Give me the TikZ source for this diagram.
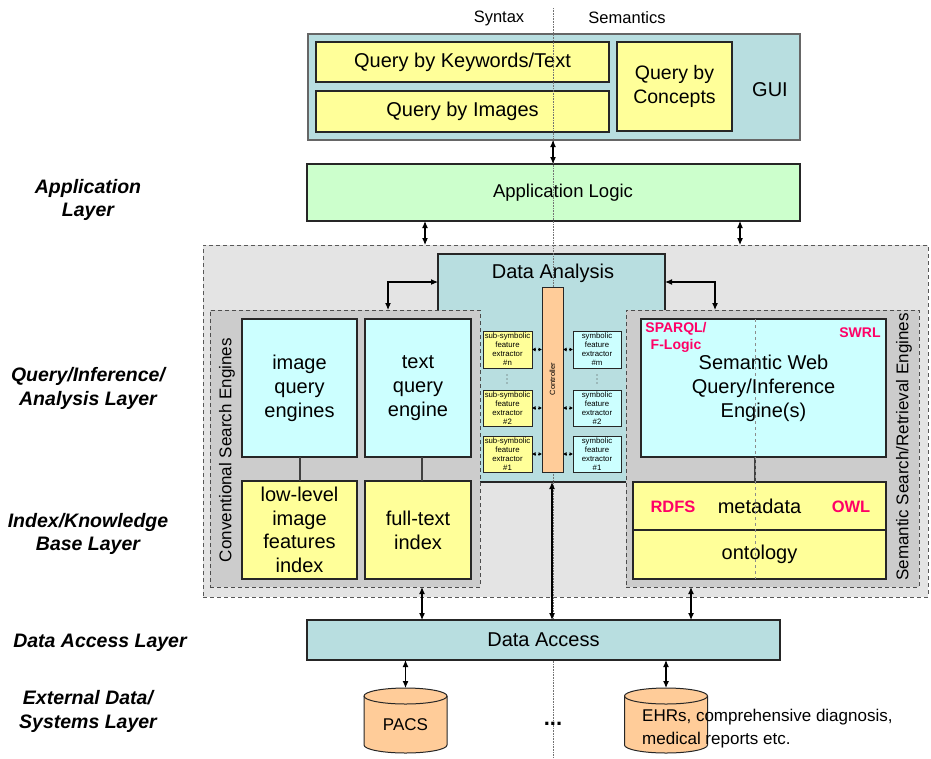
\documentclass[tikz,border=0pt]{standalone}
\usepackage{fontspec}
\setmainfont{Liberation Sans}
\usetikzlibrary{arrows.meta}
\definecolor{tealc}{HTML}{B8DEE0}
\definecolor{yelc}{HTML}{FFFF99}
\definecolor{grnc}{HTML}{CCFFCC}
\definecolor{cyac}{HTML}{CCFFFF}
\definecolor{peac}{HTML}{FFCC99}
\definecolor{grayo}{HTML}{E4E4E4}
\definecolor{grayi}{HTML}{CCCCCC}
\definecolor{pinkc}{HTML}{FF0066}
\newcommand\mybox[7]{\node[#1,minimum width={#5pt-#3pt},minimum height={#6pt-#4pt}] (#2) at ({(#3+#5)/2},{(#4+#6)/2}) {#7};}
\newcommand\drawcyl[1]{%
  \path[fill=peac, draw=black!85, line width=1pt] ([yshift=-8pt]#1.north west) -- ([yshift=8pt]#1.south west)
    arc[start angle=180,end angle=360,x radius=41.5pt,y radius=8pt] -- ([yshift=-8pt]#1.north east)
    arc[start angle=0,end angle=180,x radius=41.5pt,y radius=8pt] -- cycle;
  \draw[black!85, line width=1pt] ([yshift=-8pt]#1.north west) arc[start angle=180,end angle=360,x radius=41.5pt,y radius=8pt];}
\newcommand\vdotsat[2]{\fill[black!75] (#1,#2-4) circle (0.6pt) (#1,#2) circle (0.6pt) (#1,#2+4) circle (0.6pt);}
\tikzset{
  bx/.style={draw=black!85, line width=1.1pt, inner sep=0pt, outer sep=0pt, align=center, font=\fontsize{20}{24}\selectfont},
  yel/.style={bx, fill=yelc},
  cya/.style={bx, fill=cyac},
  tea/.style={bx, fill=tealc},
  grn/.style={bx, fill=grnc},
  outerbox/.style={bx, fill=grayo, draw=black!65, dash pattern=on 4pt off 3pt, line width=1pt},
  innerbox/.style={bx, fill=grayi, draw=black!70, dash pattern=on 4pt off 3pt, line width=1pt},
  ext/.style={bx, line width=0.9pt, font=\fontsize{7.8}{8.9}\selectfont},
  layer/.style={align=center, font=\fontsize{19.5}{23.5}\selectfont\bfseries\itshape},
  pink/.style={text=pinkc, align=center, font=\bfseries},
  arr/.style={{Latex[length=7pt,width=6pt]}-{Latex[length=7pt,width=6pt]}, line width=1.1pt, black},
  sarr/.style={{Latex[length=3.5pt,width=4pt]}-{Latex[length=3.5pt,width=4pt]}, line width=0.9pt, black, dotted},
  conn/.style={line width=1.2pt, black!75},
  lbl/.style={inner sep=0pt, align=center}
}
\begin{document}
\begin{tikzpicture}[x=1pt,y=-1pt]
\useasboundingbox[fill=white] (0,0) rectangle (931,758);

% Top labels
\node[lbl, font=\fontsize{16.5}{20}\selectfont] (syn) at (499,18) {Syntax};
\node[lbl, font=\fontsize{16.5}{20}\selectfont] (sem) at (627,18) {Semantics};

% GUI
\mybox{tea, draw=black!60}{gui}{308}{34}{800}{140}{}
\mybox{yel}{qkw}{316}{42}{609}{82}{Query by Keywords/Text}
\mybox{yel}{qimg}{316}{91}{609}{132}{Query by Images}
\mybox{yel, font=\fontsize{19.5}{24}\selectfont}{qcon}{617}{42}{732}{131}{Query by\\Concepts}
\node[lbl, font=\fontsize{20}{24}\selectfont] (guilbl) at (770,90) {GUI};

% Application logic
\mybox{grn}{app}{307}{164}{800}{221}{}
\node[lbl, font=\fontsize{18.5}{22}\selectfont] (applbl) at (563,193) {Application Logic};

% Outer gray
\mybox{outerbox}{outer}{203}{245}{928}{597}{}
% Data analysis
\mybox{tea}{da}{438}{254}{665}{482}{}
\node[lbl, font=\fontsize{20}{24}\selectfont] (dalbl) at (553,273) {Data Analysis};

% Conventional engines
\mybox{innerbox}{conv}{210}{310}{480}{587}{}
\node[lbl, rotate=90, font=\fontsize{17}{20}\selectfont] (convlbl) at (227,450) {Conventional Search Engines};
\mybox{cya}{iqe}{242}{319}{357}{457}{image\\query\\engines}
\mybox{cya}{tqe}{365}{319}{471}{457}{text\\query\\engine}
\mybox{yel, font=\fontsize{20}{23.5}\selectfont}{llf}{242}{481}{357}{579}{low-level\\image\\features\\index}
\mybox{yel}{fti}{365}{481}{471}{579}{full-text\\index}
\coordinate (xb1) at (422,0);
\coordinate (xc1) at (300,0);
\draw[conn] (iqe.south -| xc1) -- (llf.north -| xc1);
\draw[conn] (tqe.south -| xb1) -- (fti.north -| xb1);

% Semantic engines
\mybox{innerbox}{semb}{626}{310}{919}{587}{}
\node[lbl, rotate=90, font=\fontsize{17}{20}\selectfont] (semlbl) at (904,447) {Semantic Search/Retrieval Engines};
\mybox{cya}{sweb}{641}{319}{886}{457}{Semantic Web\\Query/Inference\\Engine(s)}
\mybox{yel}{meta}{633}{482}{886}{530}{metadata}
\mybox{yel}{onto}{633}{530}{886}{579}{ontology}
\coordinate (xs) at (755,0);
\draw[conn] (sweb.south -| xs) -- (meta.north -| xs);
\draw[black!45, dashed, line width=0.7pt] (sweb.north -| xs) -- (onto.south -| xs);
\node[pink, font=\fontsize{14}{17}\selectfont\bfseries] (sparql) at (676,337) {SPARQL/\\F-Logic};
\node[pink, font=\fontsize{14}{17}\selectfont\bfseries] (swrl) at (860,333) {SWRL};
\node[pink, font=\fontsize{16.5}{20}\selectfont\bfseries] (rdfs) at (673,507) {RDFS};
\node[pink, font=\fontsize{16.5}{20}\selectfont\bfseries] (owl) at (851,507) {OWL};

% Extractors
\mybox{ext, fill=yelc}{subn}{483}{331}{532}{368}{sub-symbolic\\feature\\extractor\\\#n}
\mybox{ext, fill=yelc}{sub2}{483}{390}{532}{426}{sub-symbolic\\feature\\extractor\\\#2}
\mybox{ext, fill=yelc}{sub1}{483}{436}{532}{472}{sub-symbolic\\feature\\extractor\\\#1}
\mybox{ext, fill=cyac}{symm}{573}{331}{621}{368}{symbolic\\feature\\extractor\\\#m}
\mybox{ext, fill=cyac}{sym2}{573}{390}{621}{426}{symbolic\\feature\\extractor\\\#2}
\mybox{ext, fill=cyac}{sym1}{573}{436}{621}{472}{symbolic\\feature\\extractor\\\#1}
\vdotsat{507}{379}
\vdotsat{597}{379}

% Syntax/Semantics divider
\draw[black!55, densely dotted, line width=0.6pt] (553,8) -- (553,758);

% Controller
\mybox{bx, fill=peac, line width=0.9pt}{ctrl}{542}{287}{563}{472}{}
\node[lbl, rotate=90, font=\fontsize{7.5}{9}\selectfont] (ctrllbl) at (552.5,379) {Controller};
\draw[sarr] (subn.east) -- (ctrl.west |- subn.east);
\draw[sarr] (sub2.east) -- (ctrl.west |- sub2.east);
\draw[sarr] (sub1.east) -- (ctrl.west |- sub1.east);
\draw[sarr] (symm.west) -- (ctrl.east |- symm.west);
\draw[sarr] (sym2.west) -- (ctrl.east |- sym2.west);
\draw[sarr] (sym1.west) -- (ctrl.east |- sym1.west);

% Data access
\mybox{tea}{dacc}{307}{620}{780}{660}{Data Access}

% Cylinders
\node[inner sep=0pt, outer sep=0pt, minimum width=83pt, minimum height=65pt] (pacs) at (405.5,720.5) {};
\node[inner sep=0pt, outer sep=0pt, minimum width=83pt, minimum height=65pt] (ehr) at (666,720.5) {};
\drawcyl{pacs}
\drawcyl{ehr}
\node[lbl, font=\fontsize{17}{20}\selectfont] (pacslbl) at (405.5,725) {PACS};
\node[lbl, anchor=west, align=left, font=\fontsize{17}{23}\selectfont] (ehrlbl) at (642,728.5) {EHRs, comprehensive diagnosis,\\medical reports etc.};
\node[lbl, font=\fontsize{22}{22}\selectfont\bfseries] (dots) at (553,724) {...};

% Arrows
\coordinate (xm) at (553,0);
\coordinate (xa1) at (425,0);
\coordinate (xa2) at (740,0);
\coordinate (yda) at (0,282);
\coordinate (xl) at (388,0);
\coordinate (xr) at (715,0);
\coordinate (xb2) at (552,0);
\coordinate (xb3) at (691,0);
\draw[arr] (gui.south -| xm) -- (app.north -| xm);
\draw[arr] (app.south -| xa1) -- (outer.north -| xa1);
\draw[arr] (app.south -| xa2) -- (outer.north -| xa2);
\draw[arr] (da.west |- yda) -| (conv.north -| xl);
\draw[arr] (da.east |- yda) -| (semb.north -| xr);
\draw[arr] (conv.south -| xb1) -- (dacc.north -| xb1);
\draw[arr] (da.south -| xb2) -- (dacc.north -| xb2);
\draw[arr] (semb.south -| xb3) -- (dacc.north -| xb3);
\draw[arr] (dacc.south -| pacs.north) -- (pacs.north);
\draw[arr] (dacc.south -| ehr.north) -- (ehr.north);

% Layer labels
\node[layer] (l1) at (88,200) {Application\\Layer};
\node[layer] (l2) at (88,388.5) {Query/Inference/\\Analysis Layer};
\node[layer] (l3) at (88,534) {Index/Knowledge\\Base Layer};
\node[layer] (l4) at (100,643) {Data Access Layer};
\node[layer] (l5) at (88,711.5) {External Data/\\Systems Layer};
\end{tikzpicture}
\end{document}
